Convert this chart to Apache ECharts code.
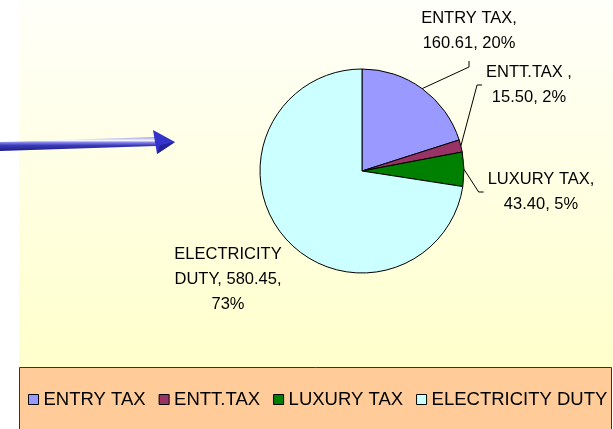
<!DOCTYPE html>
<html>
<head>
<meta charset="utf-8">
<style>
  html, body { margin: 0; padding: 0; background: #fff; }
  #chart { width: 613px; height: 429px; }
</style>
<script src="https://cdn.jsdelivr.net/npm/echarts@6/dist/echarts.min.js"></script>
</head>
<body>
<div id="chart"></div>
<script>
// 数据
const NAMES = ['ENTRY TAX', 'ENTT.TAX', 'LUXURY TAX', 'ELECTRICITY DUTY'];
const VALUES = [160.61, 15.50, 43.40, 580.45];
const LABEL_HEADS = ['ENTRY TAX,', 'ENTT.TAX ,', 'LUXURY TAX,', 'ELECTRICITY\nDUTY,'];
const COLORS = ['#9999ff', '#993366', '#008000', '#ccffff'];

// label 位置 [中心x, 中心y, 引线接在哪一侧]
const LABEL_POS = [
  [469, 31, 'bottom'],
  [529, 85, 'left'],
  [541, 192, 'left'],
  [228, 279, 'none']
];

const FONT = 'Liberation Sans, Arial, sans-serif';
const TOTAL = VALUES.reduce((a, b) => a + b, 0);

function fmtLabel(i) {
  let pct = Math.round(VALUES[i] / TOTAL * 100);
  let head = LABEL_HEADS[i];
  // ELECTRICITY DUTY 换行方式不同
  if (i === 3) {
    return head + ' ' + VALUES[i].toFixed(2) + ',\n' + pct + '%';
  }
  return head + '\n' + VALUES[i].toFixed(2) + ', ' + pct + '%';
}

const seriesData = NAMES.map((name, i) => ({
  name: name,
  value: VALUES[i],
  itemStyle: { color: COLORS[i] },
  labelLine: { show: i !== 3 }
}));

let myChart = echarts.init(document.getElementById('chart'), null, { renderer: 'canvas' });

let option = {
  animation: false,
  textStyle: { fontFamily: FONT },
  graphic: [
    // 绘图区背景
    {
      type: 'rect',
      z: -10,
      shape: { x: 19, y: 0, width: 594, height: 367 },
      style: {
        fill: {
          type: 'linear', x: 0, y: 0, x2: 0, y2: 1,
          colorStops: [{ offset: 0, color: '#fffffa' }, { offset: 1, color: '#ffffcc' }]
        }
      }
    },
    // 图例背景
    {
      type: 'rect',
      z: -10,
      shape: { x: 19.5, y: 367.5, width: 592, height: 70 },
      style: { fill: '#ffcc99', stroke: '#333', lineWidth: 1 }
    },
    // 箭头
    {
      type: 'polygon',
      z: -5,
      shape: { points: [[0, 142], [156, 137], [156, 146], [0, 151]] },
      style: {
        fill: {
          type: 'linear', x: 0, y: 0, x2: 0, y2: 1,
          colorStops: [
            { offset: 0, color: '#9a9aee' },
            { offset: 0.25, color: '#f4f4ff' },
            { offset: 0.4, color: '#8080e8' },
            { offset: 0.6, color: '#3a3ab8' },
            { offset: 1, color: '#1c1c88' }
          ]
        }
      }
    },
    {
      type: 'polygon',
      z: -5,
      shape: { points: [[153, 130], [175, 142], [157, 154]] },
      style: { fill: '#3434cc' }
    },
    {
      type: 'polygon',
      z: -5,
      shape: { points: [[157, 154], [175, 142], [160, 145]] },
      style: { fill: '#22229a' }
    }
  ],
  legend: {
    data: NAMES,
    left: 28,
    top: 390,
    padding: 0,
    itemGap: 13,
    itemWidth: 10,
    itemHeight: 10,
    icon: 'rect',
    itemStyle: { borderColor: '#000', borderWidth: 1 },
    textStyle: { fontFamily: FONT, fontSize: 18.5, color: '#000' }
  },
  series: [{
    type: 'pie',
    center: [362, 171],
    radius: 102,
    startAngle: 90,
    clockwise: true,
    avoidLabelOverlap: false,
    itemStyle: { borderColor: '#000', borderWidth: 1 },
    label: {
      show: true,
      position: 'outside',
      fontFamily: FONT,
      fontSize: 16.5,
      lineHeight: 25,
      color: '#000',
      align: 'center',
      formatter: function(params) {
        return fmtLabel(params.dataIndex);
      }
    },
    labelLine: {
      show: true,
      length: 10,
      length2: 5,
      lineStyle: { color: '#000', width: 1 }
    },
    labelLayout: function(params) {
      let pos = LABEL_POS[params.dataIndex];
      let w = params.labelRect.width;
      let h = params.labelRect.height;
      let res = { x: pos[0], y: pos[1], align: 'center', verticalAlign: 'middle' };
      let pts = params.labelLinePoints;
      if (pts && pos[2] !== 'none') {
        let start = pts[0];
        let anchor, mid;
        if (pos[2] === 'bottom') {
          anchor = [pos[0], pos[1] + h / 2 + 5];
          mid = [anchor[0], anchor[1] + 6];
        } else {
          anchor = [pos[0] - w / 2 - 4, pos[1]];
          mid = [anchor[0] - 5, anchor[1]];
        }
        res.labelLinePoints = [start, mid, anchor];
      }
      return res;
    },
    data: seriesData
  }]
};

myChart.setOption(option);
</script>
</body>
</html>
